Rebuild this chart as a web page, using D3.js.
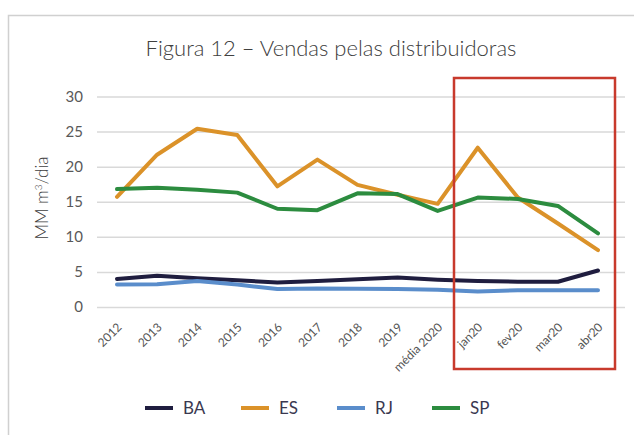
<!DOCTYPE html>
<html><head><meta charset="utf-8">
<script src="https://cdn.jsdelivr.net/npm/d3@7/dist/d3.min.js"></script>
<style>body{margin:0;background:#fff;}svg{display:block;font-family:Lato,"Open Sans",sans-serif;font-weight:300;}</style>
</head><body>
<svg id="c" width="634" height="435"></svg>
<script>
const categories = ["2012","2013","2014","2015","2016","2017","2018","2019","média 2020","jan20","fev20","mar20","abr20"];
const BA = [4.0,4.45,4.1,3.8,3.5,3.7,3.95,4.2,3.9,3.7,3.6,3.6,5.2];
const ES = [15.7,21.7,25.4,24.5,17.2,21.0,17.4,16.0,14.7,22.7,15.6,11.9,8.1];
const RJ = [3.2,3.25,3.7,3.2,2.55,2.65,2.6,2.55,2.45,2.2,2.4,2.4,2.4];
const SP = [16.8,17.0,16.7,16.3,14.0,13.8,16.2,16.1,13.7,15.6,15.4,14.4,10.5];
const yTicks = [0,5,10,15,20,25,30];
const seriesNames = ["BA","ES","RJ","SP"];
const seriesColors = {BA:"#1f1d3f",ES:"#db9229",RJ:"#5a8dcb",SP:"#2c8c3f"};
const data = {BA,ES,RJ,SP};

const svg = d3.select("#c");
svg.append("path").attr("d","M8.5,435 V15.5 H634").attr("fill","none").attr("stroke","#d0d0d0").attr("stroke-width",1.5);

const x = d3.scalePoint().domain(categories).range([117,598]);
const y = d3.scaleLinear().domain([0,30]).range([307,96.5]);

svg.append("text").attr("x",331).attr("y",56).attr("text-anchor","middle")
  .attr("font-size",22).attr("fill","#404040").text("Figura 12 – Vendas pelas distribuidoras");

const yAxis = d3.axisLeft(y).tickValues(yTicks).tickSize(-528).tickPadding(14);
const gy = svg.append("g").attr("transform","translate(97,0)").call(yAxis);
gy.select(".domain").remove();
gy.selectAll(".tick line").attr("stroke","#d9d9d9").attr("stroke-width",1.5);
gy.selectAll(".tick text").attr("font-size",15).attr("fill","#595959").attr("font-family","Lato,sans-serif").attr("font-weight",400);

svg.append("text").attr("transform","translate(48,198) rotate(-90)").attr("text-anchor","middle")
  .attr("font-size",17).attr("fill","#404040")
  .html('MM m<tspan baseline-shift="super" font-size="10">3</tspan>/dia');

const xAxis = d3.axisBottom(x).tickSize(0).tickPadding(0);
const gx = svg.append("g").attr("transform","translate(0,307)").call(xAxis);
gx.select(".domain").remove();
gx.selectAll(".tick text").attr("font-size",12).attr("fill","#555555").attr("font-family","Lato,sans-serif").attr("font-weight",400)
  .attr("text-anchor","end").attr("dy",null).attr("y",0)
  .attr("transform","translate(5,21) rotate(-45)");

const line = d3.line().x((d,i)=>x(categories[i])).y(d=>y(d));
seriesNames.forEach(n=>{
  svg.append("path").datum(data[n]).attr("d",line).attr("fill","none")
    .attr("stroke",seriesColors[n]).attr("stroke-width",4).attr("stroke-linejoin","round").attr("stroke-linecap","round");
});

svg.append("rect").attr("x",454).attr("y",78).attr("width",161).attr("height",291)
  .attr("fill","none").attr("stroke","#c83a2c").attr("stroke-width",2.5);

const legX = [145,241,337,432];
seriesNames.forEach((n,i)=>{
  svg.append("line").attr("x1",legX[i]).attr("x2",legX[i]+28).attr("y1",408).attr("y2",408)
    .attr("stroke",seriesColors[n]).attr("stroke-width",4);
  svg.append("text").attr("x",legX[i]+38).attr("y",414).attr("font-size",17).attr("font-weight",400).attr("fill","#3a3850").text(n);
});
</script>
</body></html>
